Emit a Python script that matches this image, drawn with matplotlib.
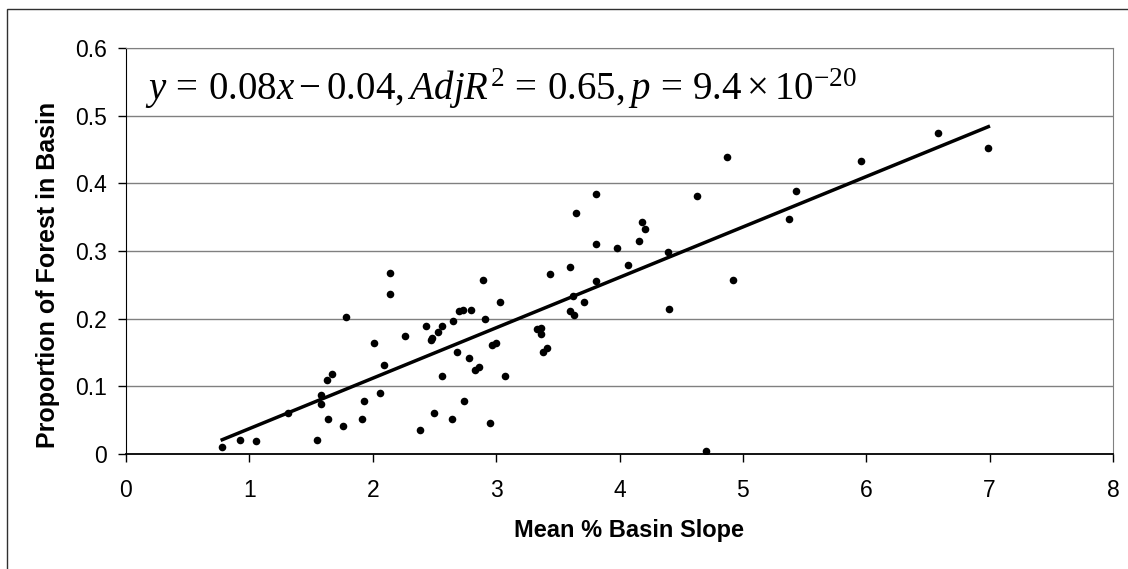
import numpy as np
import matplotlib
matplotlib.use('Agg')
import matplotlib.pyplot as plt
from matplotlib.patches import Rectangle

# data
slope_pct = [0.78, 0.92, 1.05, 1.31, 1.55, 1.58, 1.58, 1.63, 1.67, 1.64,
             1.76, 1.78, 1.91, 1.93, 2.01, 2.06, 2.09, 2.14, 2.14, 2.26,
             2.38, 2.43, 2.47, 2.48, 2.53, 2.56, 2.50, 2.56, 2.64, 2.65,
             2.68, 2.70, 2.73, 2.74, 2.78, 2.80, 2.83, 2.86, 2.89, 2.91,
             2.95, 2.97, 3.00, 3.03, 3.07, 3.33, 3.36, 3.36, 3.38, 3.41,
             3.44, 3.60, 3.62, 3.60, 3.63, 3.65, 3.71, 3.81, 3.81, 3.81,
             3.98, 4.07, 4.16, 4.18, 4.21, 4.39, 4.40, 4.63, 4.70, 4.87,
             4.92, 5.37, 5.43, 5.96, 6.58, 6.99]
forest_prop = [0.010, 0.020, 0.019, 0.060, 0.021, 0.074, 0.087, 0.109, 0.118, 0.052,
               0.041, 0.203, 0.052, 0.079, 0.164, 0.090, 0.131, 0.268, 0.236, 0.175,
               0.035, 0.189, 0.169, 0.172, 0.181, 0.189, 0.060, 0.115, 0.052, 0.197,
               0.151, 0.211, 0.213, 0.079, 0.142, 0.213, 0.124, 0.129, 0.257, 0.200,
               0.046, 0.161, 0.164, 0.224, 0.115, 0.184, 0.186, 0.178, 0.151, 0.156,
               0.266, 0.277, 0.233, 0.211, 0.205, 0.356, 0.224, 0.384, 0.310, 0.255,
               0.304, 0.280, 0.315, 0.343, 0.332, 0.299, 0.214, 0.381, 0.005, 0.439,
               0.257, 0.348, 0.389, 0.433, 0.475, 0.452]

fit_slope = 0.0745
fit_intercept = -0.037

x_ticks = [0, 1, 2, 3, 4, 5, 6, 7, 8]
y_ticks = [0, 0.1, 0.2, 0.3, 0.4, 0.5, 0.6]

plt.rcParams['font.family'] = ['Liberation Sans', 'DejaVu Sans']
plt.rcParams['mathtext.fontset'] = 'custom'
plt.rcParams['mathtext.rm'] = 'Liberation Serif'
plt.rcParams['mathtext.it'] = 'Liberation Serif:italic'

fig = plt.figure(figsize=(11.28, 5.69), dpi=100)
ax = fig.add_axes([126/1128, 1 - 454/569, (1113 - 126)/1128, (454 - 48)/569])

# outer chart frame (only left/top edges show in the reference)
fig.add_artist(Rectangle((7/1128, -0.2), 1.2, 1.2 - 9/569, transform=fig.transFigure,
                         fill=False, edgecolor='#303030', linewidth=1.0, clip_on=False))

for yv in y_ticks[1:]:
    ax.axhline(yv, color='#808080', linewidth=1.0, zorder=1)

xs = np.array(slope_pct)
xl = np.array([xs.min(), xs.max()])
ax.plot(xl, fit_slope * xl + fit_intercept, color='black', linewidth=2.5, zorder=3)
ax.scatter(slope_pct, forest_prop, s=30, color='black', zorder=4, linewidths=0)

ax.set_xlim(0, 8)
ax.set_ylim(0, 0.6)
ax.set_xticks(x_ticks)
ax.set_yticks(y_ticks)
ax.set_xticklabels([str(v) for v in x_ticks])
ax.set_yticklabels([f'{v:g}' for v in y_ticks])
ax.tick_params(axis='both', direction='out', length=6, width=1, labelsize=16.5, colors='black')
ax.tick_params(axis='x', pad=12)
ax.tick_params(axis='y', pad=8)

ax.spines['left'].set_color('black')
ax.spines['bottom'].set_color('black')
ax.spines['bottom'].set_linewidth(1.3)
ax.spines['top'].set_color('#808080')
ax.spines['right'].set_color('#808080')

ax.set_xlabel('Mean % Basin Slope', fontsize=17, fontweight='bold')
ax.xaxis.set_label_coords(0.51, -0.16)
ax.set_ylabel('Proportion of Forest in Basin', fontsize=18, fontweight='bold')
ax.yaxis.set_label_coords(-0.067, 0.44)

ax.text(0.15, 0.523, r'$y\,=\,0.08x-0.04,AdjR^2\,=\,0.65,p\,=\,9.4\times10^{-20}$',
        fontsize=28, ha='left', va='baseline', zorder=5)

fig.savefig('out.png', dpi=100)
